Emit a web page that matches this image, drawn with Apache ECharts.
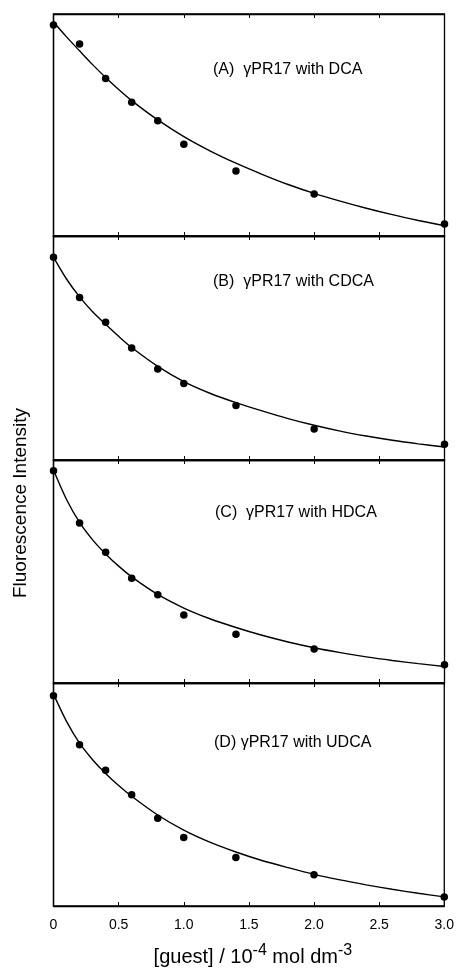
<!DOCTYPE html>
<html>
<head>
<meta charset="utf-8">
<script src="https://cdn.jsdelivr.net/npm/echarts@6/dist/echarts.min.js"></script>
<style>
html,body{margin:0;padding:0;background:#fff;}
#chart{width:457px;height:968px;}
</style>
</head>
<body>
<div id="chart"></div>
<script>
// ---- data ----
const guestX = [0, 0.2, 0.4, 0.6, 0.8, 1.0, 1.4, 2.0, 3.0];
const intensityA = [95.0, 86.5, 70.9, 60.2, 51.9, 41.3, 29.3, 18.9, 5.4];
const intensityB = [90.5, 72.5, 61.5, 50.0, 40.6, 34.2, 24.3, 13.8, 7.0];
const intensityC = [95.2, 71.7, 58.6, 47.0, 39.6, 30.5, 21.9, 15.2, 8.2];
const intensityD = [94.3, 72.3, 60.9, 49.9, 39.4, 30.7, 21.7, 14.0, 4.0];

const fitX = [0, 0.1, 0.2, 0.3, 0.4, 0.5, 0.6, 0.8, 1.0, 1.2, 1.4, 1.6, 1.8, 2.0, 2.2, 2.4, 2.6, 2.8, 3.0];
const fitA = [96.4, 89.7, 83.4, 77.2, 71.4, 66.0, 61.0, 52.3, 44.8, 38.4, 32.8, 27.8, 23.2, 19.2, 15.7, 12.5, 9.6, 7.0, 4.6];
const fitB = [90.6, 80.8, 72.8, 66.2, 60.6, 55.2, 50.2, 41.8, 35.0, 29.8, 25.6, 21.9, 18.5, 15.5, 12.9, 10.7, 8.8, 7.2, 5.8];
const fitC = [95.5, 82.3, 72.0, 64.2, 57.9, 52.4, 47.6, 39.7, 33.6, 28.8, 24.9, 21.4, 18.4, 15.8, 13.6, 11.7, 10.1, 8.7, 7.4];
const fitD = [95.0, 82.8, 73.0, 65.6, 59.4, 54.0, 49.2, 40.8, 34.0, 28.6, 24.2, 20.4, 17.2, 14.2, 11.7, 9.5, 7.5, 5.7, 4.1];

const panelLabels = ['(A)  \u03B3PR17 with DCA', '(B)  \u03B3PR17 with CDCA', '(C)  \u03B3PR17 with HDCA', '(D) \u03B3PR17 with UDCA'];
const xTicks = [0, 0.5, 1.0, 1.5, 2.0, 2.5, 3.0];
const yTitle = 'Fluorescence Intensity';

// ---- layout ----
const FONT = '"Liberation Sans", Arial, Helvetica, sans-serif';
const panelTops = [14, 236, 460, 683];
const panelH = [222, 224, 223, 224];
const labelPos = [[213, 71], [213, 283], [215, 514], [214, 744]];
const scatterSets = [intensityA, intensityB, intensityC, intensityD];
const fitSets = [fitA, fitB, fitC, fitD];

const grids = [], xAxes = [], yAxes = [], series = [], graphics = [];
for (let i = 0; i < 4; i++) {
  grids.push({left: 53.5, width: 391, top: panelTops[i], height: panelH[i],
    show: true, borderColor: '#000', borderWidth: 1.3, backgroundColor: 'transparent'});
  const isLast = i === 3;
  xAxes.push({
    type: 'value', gridIndex: i, position: 'bottom', min: 0, max: 3, interval: 0.5,
    axisLine: {show: true, lineStyle: {color: '#000', width: 1.3}},
    axisTick: {show: true, inside: true, length: 4, lineStyle: {color: '#000', width: 1}},
    splitLine: {show: false},
    axisLabel: {show: isLast, margin: 12, fontFamily: FONT, fontSize: 14, color: '#000',
      formatter: v => v === 0 ? '0' : v.toFixed(1)},
    name: isLast ? '[guest] / 10{sup|-4} mol dm{sup|-3}' : '',
    nameLocation: 'middle', nameGap: 37,
    nameTextStyle: {fontFamily: FONT, fontSize: 20, color: '#000', padding: [0, 0, 0, 8],
      rich: {sup: {fontFamily: FONT, fontSize: 16, color: '#000', verticalAlign: 'top', padding: [0, 0, 12, 0]}}}
  });
  xAxes.push({
    type: 'value', gridIndex: i, position: 'top', min: 0, max: 3, interval: 0.5,
    axisLine: {show: true, lineStyle: {color: '#000', width: 1.3}},
    axisTick: {show: true, inside: true, length: 4, lineStyle: {color: '#000', width: 1}},
    splitLine: {show: false}, axisLabel: {show: false}
  });
  yAxes.push({
    type: 'value', gridIndex: i, min: 0, max: 100,
    axisLine: {show: true, lineStyle: {color: '#000', width: 1.3}},
    axisTick: {show: false}, axisLabel: {show: false}, splitLine: {show: false}
  });
  series.push({
    type: 'line', xAxisIndex: 2 * i, yAxisIndex: i, smooth: 0.3, showSymbol: false,
    lineStyle: {color: '#000', width: 1.4}, silent: true,
    data: fitX.map((x, k) => [x, fitSets[i][k]])
  });
  series.push({
    type: 'scatter', xAxisIndex: 2 * i, yAxisIndex: i, symbol: 'circle', symbolSize: 7.5,
    itemStyle: {color: '#000', opacity: 1}, silent: true,
    data: guestX.map((x, k) => [x, scatterSets[i][k]])
  });
  graphics.push({
    type: 'text', left: labelPos[i][0], top: labelPos[i][1] - 9,
    style: {text: panelLabels[i], fontFamily: FONT, fontSize: 16, fill: '#000'}
  });
}
graphics.push({
  type: 'text', x: 21, y: 503, rotation: Math.PI / 2,
  style: {text: yTitle, fontFamily: FONT, fontSize: 19, fill: '#000', textAlign: 'center', textVerticalAlign: 'middle'}
});

const chart = echarts.init(document.getElementById('chart'), null, {renderer: 'canvas'});
chart.setOption({
  animation: false,
  backgroundColor: '#fff',
  grid: grids, xAxis: xAxes, yAxis: yAxes, series: series, graphic: graphics
});
</script>
</body>
</html>
